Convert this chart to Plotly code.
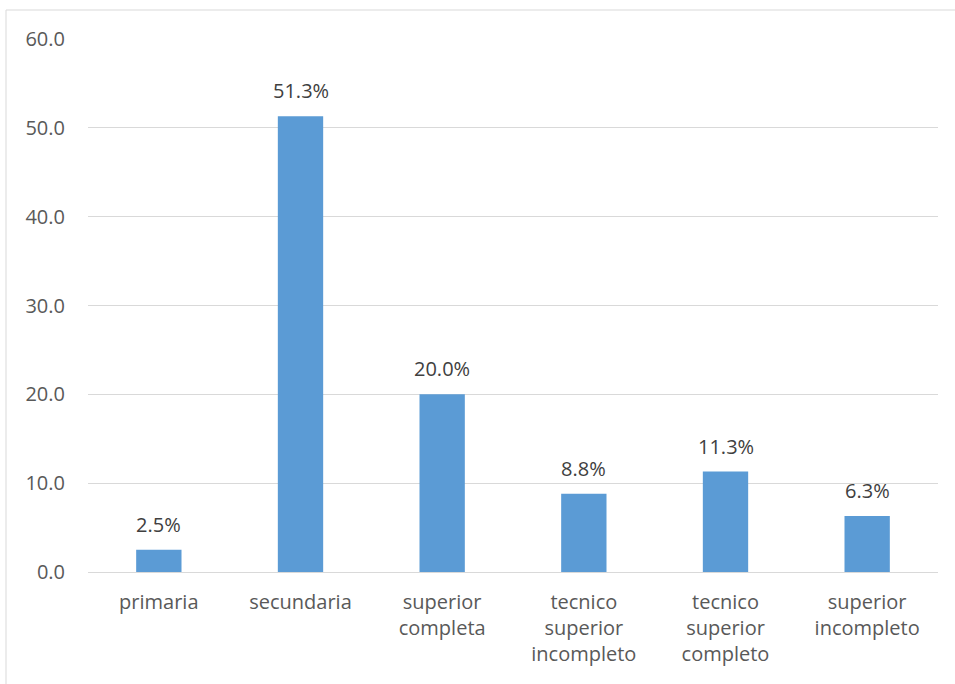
import plotly.graph_objects as go

categories = ["primaria", "secundaria", "superior<br>completa", "tecnico<br>superior<br>incompleto",
              "tecnico<br>superior<br>completo", "superior<br>incompleto"]
values = [2.5, 51.3, 20.0, 8.8, 11.3, 6.3]
labels = ["2.5%", "51.3%", "20.0%", "8.8%", "11.3%", "6.3%"]

W, H = 955, 684
L, R, T, B = 88, 17, 39, 112
pw, ph = W - L - R, H - T - B

fig = go.Figure(go.Bar(
    x=categories, y=values,
    marker=dict(color="#5B9BD5", line=dict(width=0)),
    hoverinfo="skip",
))

for c, v, t in zip(categories, values, labels):
    fig.add_annotation(x=c, y=v, text=t, showarrow=False, yanchor="bottom", yshift=10,
                       font=dict(size=20, color="#404040", family="Open Sans"))

fig.update_layout(
    width=W, height=H,
    margin=dict(l=L, r=R, t=T, b=B, pad=0),
    paper_bgcolor="white", plot_bgcolor="white",
    bargap=0.68, showlegend=False,
    font=dict(family="Open Sans", size=20, color="#595959"),
    xaxis=dict(showgrid=False, showline=False, ticks="", ticklabelstandoff=16,
               tickfont=dict(size=20, color="#595959")),
    yaxis=dict(range=[0, 60], dtick=10, tickformat=".1f", showgrid=True,
               gridcolor="#D9D9D9", gridwidth=1, zeroline=True, zerolinecolor="#D9D9D9",
               zerolinewidth=1, showline=False, ticks="", ticklabelstandoff=22,
               tickfont=dict(size=20, color="#595959")),
    shapes=[dict(type="rect", xref="paper", yref="paper",
                 x0=(6 - L) / pw, x1=1.2, y0=-0.5, y1=(H - 10 - B) / ph,
                 line=dict(color="#D9D9D9", width=1), fillcolor="rgba(0,0,0,0)", layer="below")],
)

fig.write_html("out.html", config={"displayModeBar": False},
               post_script="document.body.style.margin='0';document.body.style.padding='0';")
